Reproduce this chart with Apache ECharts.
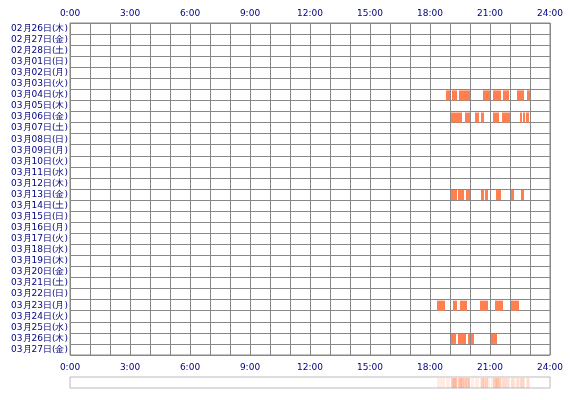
<!DOCTYPE html>
<html><head><meta charset="utf-8">
<script src="https://cdn.jsdelivr.net/npm/echarts@6/dist/echarts.min.js"></script>
<style>html,body{margin:0;background:#fff}#c{width:570px;height:400px}</style>
</head><body><div id="c"></div>
<script>
const days = ['02月26日(木)','02月27日(金)','02月28日(土)','03月01日(日)','03月02日(月)','03月03日(火)','03月04日(水)','03月05日(木)','03月06日(金)','03月07日(土)','03月08日(日)','03月09日(月)','03月10日(火)','03月11日(水)','03月12日(木)','03月13日(金)','03月14日(土)','03月15日(日)','03月16日(月)','03月17日(火)','03月18日(水)','03月19日(木)','03月20日(金)','03月21日(土)','03月22日(日)','03月23日(月)','03月24日(火)','03月25日(水)','03月26日(木)','03月27日(金)'];

// [day index, start hour, end hour]
const blocks = [
  [6,18.8,19.0],[6,19.1,19.35],[6,19.45,20.0],[6,20.65,21.0],[6,21.15,21.55],[6,21.65,21.95],[6,22.35,22.7],[6,22.85,23.0],
  [8,19.05,19.6],[8,19.75,20.0],[8,20.25,20.45],[8,20.55,20.7],[8,21.15,21.45],[8,21.6,22.0],[8,22.5,22.6],[8,22.65,22.75],[8,22.8,22.95],
  [15,19.05,19.35],[15,19.4,19.7],[15,19.8,20.0],[15,20.55,20.7],[15,20.75,20.9],[15,21.3,21.55],[15,22.05,22.2],[15,22.55,22.7],
  [25,18.35,18.75],[25,19.15,19.35],[25,19.5,19.85],[25,20.5,20.9],[25,21.25,21.65],[25,22.05,22.45],
  [28,19.05,19.3],[28,19.4,19.8],[28,19.9,20.0],[28,20.05,20.2],[28,21.05,21.35]
];

const chart = echarts.init(document.getElementById('c'));
const lab = { color: '#000080', fontSize: 9, fontFamily: 'DejaVu Sans' };
const xBase = {
  type: 'value', min: 0, max: 24, interval: 1,
  axisLine: { show: false }, axisTick: { show: false },
  splitLine: { show: true, lineStyle: { color: '#888', width: 1 } }
};
function rect(params, api) {
  const s = api.coord([api.value(1), api.value(0)]);
  const e = api.coord([api.value(2), api.value(0)]);
  const h = api.size([0, 1])[1];
  return { type: 'rect', shape: { x: s[0], y: s[1] - h / 2 + 1, width: e[0] - s[0], height: h - 1 },
    style: api.style() };
}
chart.setOption({
  animation: false,
  grid: [
    { left: 70, right: 20, top: 23, bottom: 45, show: true, borderColor: '#888', borderWidth: 1 },
    { left: 70, right: 20, top: 377, height: 11, show: true, borderColor: '#bbb', borderWidth: 1 }
  ],
  xAxis: [
    Object.assign({}, xBase, { gridIndex: 0, position: 'top',
      axisLabel: Object.assign({}, lab, { margin: 5, formatter: v => v % 3 === 0 ? v + ':00' : '' }) }),
    Object.assign({}, xBase, { gridIndex: 0, position: 'bottom', splitLine: { show: false },
      axisLabel: Object.assign({}, lab, { formatter: v => v % 3 === 0 ? v + ':00' : '' }) }),
    Object.assign({}, xBase, { gridIndex: 1, splitLine: { show: false }, axisLabel: { show: false } })
  ],
  yAxis: [
    { type: 'category', gridIndex: 0, data: days, inverse: true,
      axisLine: { show: false }, axisTick: { show: false },
      axisLabel: Object.assign({}, lab, { interval: 0, margin: 2 }),
      splitLine: { show: true, lineStyle: { color: '#888', width: 1 } } },
    { type: 'category', gridIndex: 1, data: ['all'], show: false }
  ],
  series: [
    { type: 'custom', xAxisIndex: 0, yAxisIndex: 0, data: blocks,
      encode: { x: [1, 2], y: 0 }, itemStyle: { color: '#ff7f50' },
      renderItem: (p, api) => rect(p, api) },
    { type: 'custom', xAxisIndex: 2, yAxisIndex: 1, data: blocks.map(b => [0, b[1], b[2]]),
      encode: { x: [1, 2], y: 0 }, itemStyle: { color: '#ff7f50', opacity: 0.15 },
      renderItem: (p, api) => {
        const s = api.coord([api.value(1), 0]);
        const e = api.coord([api.value(2), 0]);
        return { type: 'rect', shape: { x: s[0], y: 378, width: e[0] - s[0], height: 10 }, style: api.style() };
      } }
  ]
});
</script></body></html>
